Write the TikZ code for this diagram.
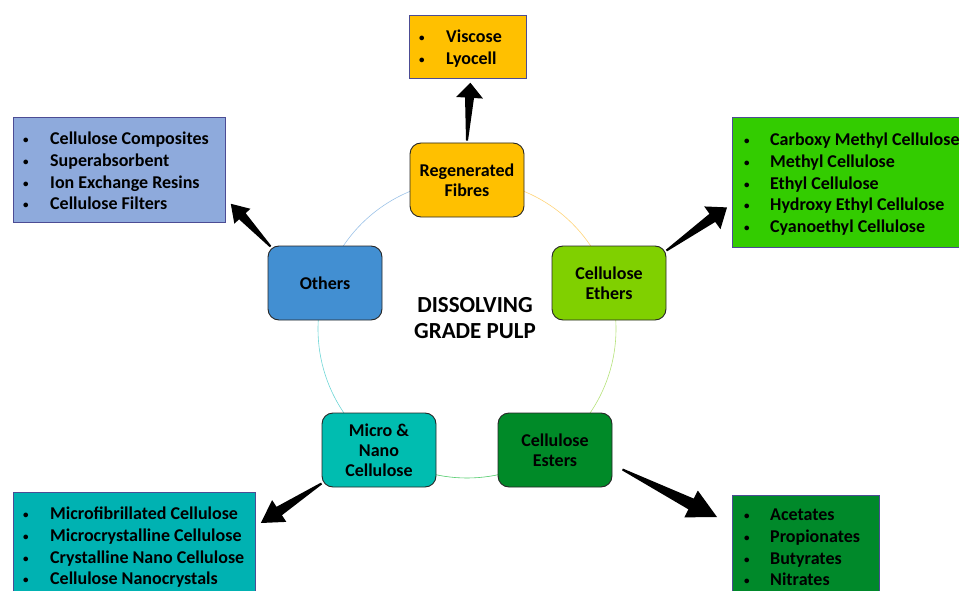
\documentclass[tikz,border=0pt]{standalone}
\usepackage{fontspec}
\setmainfont{Carlito}
\usetikzlibrary{calc}
\definecolor{cFib}{HTML}{FFC000}
\definecolor{cEth}{HTML}{80D000}
\definecolor{cEst}{HTML}{008A28}
\definecolor{cMic}{HTML}{00BDB0}
\definecolor{cOth}{HTML}{428FD2}
\definecolor{bTopF}{HTML}{FFC000}
\definecolor{bLeftF}{HTML}{8EAADC}
\definecolor{bRightF}{HTML}{33CC00}
\definecolor{bBLF}{HTML}{00B2B2}
\definecolor{bBRF}{HTML}{00892A}
\definecolor{aFE}{HTML}{FFD47A}
\definecolor{aEE}{HTML}{B5E27A}
\definecolor{aEM}{HTML}{4FCB6A}
\definecolor{aMO}{HTML}{6ED6D6}
\definecolor{aOF}{HTML}{9DC3E8}
\newcommand\bul{\makebox[27pt][l]{\raisebox{1pt}{\fontsize{11}{11}\selectfont•}}}
\newcommand\bulr{\makebox[26pt][l]{\raisebox{1pt}{\fontsize{11}{11}\selectfont•}}}
% #1 tail, #2 tip, #3 head length, #4 head half-width, #5 shaft half-width at head
\newcommand\blockarr[5]{%
  \path coordinate (hb) at ($(#2)!#3pt!(#1)$);
  \fill[black] ($(#1)!1pt!90:(#2)$) -- ($(hb)!#5pt!90:(#2)$) -- ($(hb)!#4pt!90:(#2)$) -- (#2)
    -- ($(hb)!#4pt!-90:(#2)$) -- ($(hb)!#5pt!-90:(#2)$) -- ($(#1)!1pt!-90:(#2)$) -- cycle;}
\begin{document}
\begin{tikzpicture}[x=1pt,y=-1pt,
  hub/.style={draw=black!85, line width=0.9pt, rounded corners=11pt, minimum width=114pt,
    minimum height=74pt, align=center, inner sep=2pt,
    font=\fontsize{18}{20}\selectfont\bfseries},
  listbox/.style={draw=black!60!blue!70, line width=0.8pt, anchor=north west, inner sep=0pt},
  listtext/.style={anchor=north west, inner sep=0pt, align=left,
    font=\fontsize{18}{21.6}\selectfont\bfseries},
  ring/.style={line width=0.6pt}]
\useasboundingbox (0,0) rectangle (959,591);
\coordinate (C) at (467,329);
% ring arcs
\draw[ring, aFE] ($(C)+(-90:149)$) arc[start angle=-90, end angle=-18, radius=149];
\draw[ring, aEE] ($(C)+(-18:149)$) arc[start angle=-18, end angle=54, radius=149];
\draw[ring, aEM] ($(C)+(54:149)$) arc[start angle=54, end angle=126, radius=149];
\draw[ring, aMO] ($(C)+(126:149)$) arc[start angle=126, end angle=198, radius=149];
\draw[ring, aOF] ($(C)+(198:149)$) arc[start angle=198, end angle=270, radius=149];
% hub nodes
\node[hub, fill=cFib] (fib) at (467,180) {Regenerated\\Fibres};
\node[hub, fill=cEth] (eth) at (609,283) {Cellulose\\Ethers};
\node[hub, fill=cEst] (est) at (555,450) {Cellulose\\Esters};
\node[hub, fill=cMic] (mic) at (379,450) {Micro \&\\Nano\\Cellulose};
\node[hub, fill=cOth] (oth) at (325,283) {Others};
\node[align=center, font=\fontsize{23}{26}\selectfont\bfseries] (title) at (475,318) {DISSOLVING\\GRADE PULP};
% outer boxes
\node[listbox, fill=bTopF, minimum width=117pt, minimum height=63pt] (bTop) at (409,15) {};
\node[listbox, fill=bLeftF, minimum width=212pt, minimum height=105pt] (bLeft) at (13,117) {};
\node[listbox, fill=bRightF, minimum width=240pt, minimum height=130pt] (bRight) at (732,117) {};
\node[listbox, fill=bBLF, minimum width=242pt, minimum height=110pt] (bBL) at (13,492) {};
\node[listbox, fill=bBRF, minimum width=147pt, minimum height=110pt] (bBR) at (732,495) {};
% lists
\node[listtext] (tTop) at (419,30) {\bul Viscose\\\bul Lyocell};
\node[listtext] (tLeft) at (23,132) {\bul Cellulose Composites\\\bul Superabsorbent\\\bul Ion Exchange Resins\\\bul Cellulose Filters};
\node[listtext] (tRight) at (744,133) {\bulr Carboxy Methyl Cellulose\\\bulr Methyl Cellulose\\\bulr Ethyl Cellulose\\\bulr Hydroxy Ethyl Cellulose\\\bulr Cyanoethyl Cellulose};
\node[listtext] (tBL) at (23,507) {\bul Microfibrillated Cellulose\\\bul Microcrystalline Cellulose\\\bul Crystalline Nano Cellulose\\\bul Cellulose Nanocrystals};
\node[listtext] (tBR) at (744,509) {\bulr Acetates\\\bulr Propionates\\\bulr Butyrates\\\bulr Nitrates};
% arrow end points
\coordinate (tFib) at ($(fib.north)+(0,-2)$);
\coordinate (pTop) at ($(bTop.south)+(2.5,4)$);
\coordinate (tOth) at ($(oth.north west)+(3,1)$);
\coordinate (pLeft) at ($(bLeft.south east)+(5,-19)$);
\coordinate (tEth) at ($(eth.north east)+(0,5)$);
\coordinate (pRight) at ($(bRight.west)+(-5,25)$);
\coordinate (tMic) at ($(mic.south west)+(0,-4)$);
\coordinate (pBL) at ($(bBL.north east)+(5,31)$);
\coordinate (tEst) at ($(est.south east)+(10,-18)$);
\coordinate (pBR) at ($(bBR.north west)+(-15,22)$);
\blockarr{tFib}{pTop}{15}{13.5}{4.5}
\blockarr{tOth}{pLeft}{17}{11}{4.5}
\blockarr{tEth}{pRight}{18}{14}{5}
\blockarr{tMic}{pBL}{22}{13}{5}
\blockarr{tEst}{pBR}{29}{15}{6}
\end{tikzpicture}
\end{document}
